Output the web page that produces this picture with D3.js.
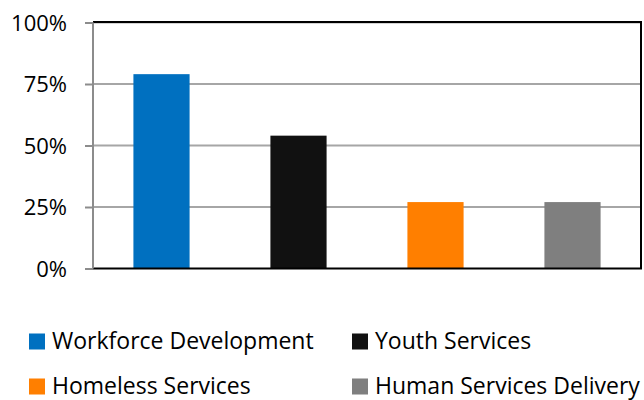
<!DOCTYPE html>
<html>
<head>
<meta charset="utf-8">
<script src="https://cdn.jsdelivr.net/npm/d3@7"></script>
<style>
  html, body { margin: 0; padding: 0; background: #fff; }
  svg { display: block; }
  text { font-family: "Open Sans", Lato, sans-serif; fill: #000; }
</style>
</head>
<body>
<svg id="chart" width="644" height="400"></svg>
<script>
const categories = ["Workforce Development", "Youth Services", "Homeless Services", "Human Services Delivery"];
const values = [0.79, 0.54, 0.27, 0.27];
const colors = ["#0070C0", "#111111", "#FF7F00", "#7F7F7F"];
const tickValues = [0, 0.25, 0.5, 0.75, 1];
const tickLabels = ["0%", "25%", "50%", "75%", "100%"];

(function () {
const svg = d3.select("#chart");
const mLeft = 93, mRight = 641, mTop = 22.5, mBottom = 268.5;

const x = d3.scaleBand().domain(categories).range([mLeft, mRight]).paddingInner(0.59).paddingOuter(0.295);
const y = d3.scaleLinear().domain([0, 1]).range([mBottom, mTop]);

// gridlines
svg.append("g").selectAll("line").data(tickValues.filter(d => d > 0)).join("line")
  .attr("x1", mLeft).attr("x2", mRight).attr("y1", d => y(d)).attr("y2", d => y(d))
  .attr("stroke", "#A6A6A6").attr("stroke-width", 2);

// bars
svg.append("g").selectAll("rect").data(categories).join("rect")
  .attr("x", d => x(d)).attr("width", x.bandwidth())
  .attr("y", (d, i) => y(values[i])).attr("height", (d, i) => y(0) - y(values[i]))
  .attr("fill", (d, i) => colors[i]);

// plot border (top, right, bottom)
svg.append("path")
  .attr("d", `M${mLeft},${mTop - 0.5}H${mRight}V${mBottom}H${mLeft}`)
  .attr("fill", "none").attr("stroke", "#000").attr("stroke-width", 2);

// y axis
const yAxis = d3.axisLeft(y).tickValues(tickValues).tickFormat((d, i) => tickLabels[i]).tickSize(8).tickPadding(18);
const ag = svg.append("g").attr("transform", `translate(${mLeft},0)`).call(yAxis);
ag.select(".domain").attr("stroke", "#8C8C8C").attr("stroke-width", 2).attr("d", `M0,${mTop}V${mBottom}`);
ag.selectAll(".tick line").attr("stroke", "#8C8C8C").attr("stroke-width", 2);
ag.selectAll(".tick text").attr("font-size", 22).attr("font-family", "'Open Sans', Lato, sans-serif").attr("fill", "#000").attr("dy", "0.36em");

// legend
const legendPos = [[29, 349], [352, 349], [29, 394], [352, 394]];
const lg = svg.append("g").selectAll("g").data(categories).join("g")
  .attr("transform", (d, i) => `translate(${legendPos[i][0]},${legendPos[i][1]})`);
lg.append("rect").attr("y", -15.5).attr("width", 16).attr("height", 16).attr("fill", (d, i) => colors[i]);
lg.append("text").attr("x", 23).attr("y", 0).attr("font-size", 23).text(d => d);
})();
</script>
</body>
</html>
